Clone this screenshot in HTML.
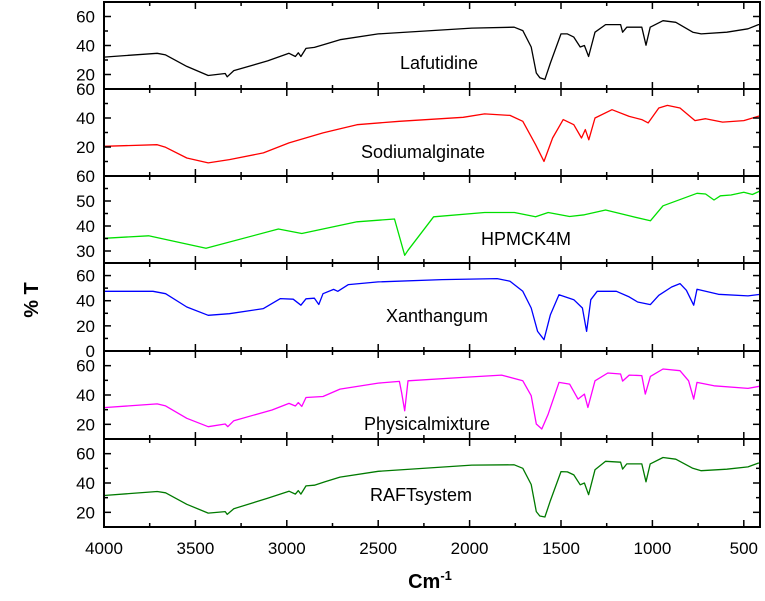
<!DOCTYPE html>
<html><head><meta charset="utf-8"><style>
html,body{margin:0;padding:0;background:#fff;}
svg{display:block;font-family:"Liberation Sans",sans-serif;}
</style></head><body>
<svg id="chart" width="765" height="601" viewBox="0 0 765 601"></svg>
<script>
const waveLaf=[4000,3709,3663,3547,3430,3337,3326,3290,3105,2988,2953,2937,2923,2895,2849,2791,2709,2500,1988,1756,1709,1663,1635,1616,1588,1558,1500,1465,1430,1395,1372,1349,1314,1256,1174,1163,1140,1058,1035,1012,942,872,779,733,593,477,407,396];
const valLaf=[32,34.6,33.5,25.6,19.3,20.7,18.4,22.7,29.4,34.6,32.4,35,32.4,38,38.7,40.9,44,48,52,52.6,50.3,39,21,17.8,16.6,27.9,48,48,45.8,39,40,32.4,49.2,54.4,54.4,49.2,52.6,52.6,40.2,52.6,57.1,56,49.2,48,49.2,51.5,54.8,56];
const waveSod=[4000,3709,3663,3547,3430,3314,3128,2988,2802,2616,2384,2035,1918,1779,1709,1639,1593,1546,1488,1430,1388,1367,1348,1314,1221,1127,1058,1023,965,918,849,767,709,616,500,407,396];
const valSod=[20.5,21.6,19.8,12.4,9,11.3,15.9,22.8,29.7,35.4,37.7,40.5,42.8,41.8,37.7,21.6,10.1,26.2,38.9,35.4,26.2,32,25,40,45.7,41.1,38.9,36.6,46.9,48.7,46.9,38.2,39.5,37.2,38.2,41.5,44];
const waveHpm=[4000,3756,3442,3046,2918,2616,2411,2355,2337,2197,1918,1755,1639,1570,1453,1372,1256,1127,1011,942,756,709,663,628,570,500,453,407,396];
const valHpm=[35.1,36.1,31.1,38.8,37,41.7,42.8,28.3,30.3,43.7,45.4,45.4,43.7,45.4,43.8,44.5,46.4,44.1,42.1,48.1,53.1,52.8,50.4,52.1,52.4,53.5,52.6,54,54.9];
const waveXan=[4000,3732,3663,3547,3430,3314,3128,3035,2965,2923,2895,2849,2825,2802,2744,2721,2663,2500,2151,1849,1779,1709,1663,1628,1593,1558,1511,1430,1383,1360,1337,1302,1197,1127,1081,1011,965,895,849,814,774,756,639,477,407,396];
const valXan=[47.5,47.5,45.6,35,28.4,29.7,33.7,41.7,41.2,36.4,41.5,42,37,45.6,49,47.5,52.8,55,56.8,57.6,55.5,47.5,34.2,15.6,9,28.9,44.8,40.8,34.2,15.6,40.8,47.5,47.5,43,39,36.9,44.3,50.9,53.6,48.3,36.4,49.1,45.1,43.8,45,47.5];
const wavePhy=[4000,3709,3663,3547,3430,3337,3323,3290,3081,2988,2953,2937,2918,2895,2802,2709,2500,2384,2372,2355,2337,2035,1825,1709,1663,1635,1605,1570,1511,1453,1407,1372,1353,1314,1244,1174,1163,1127,1058,1039,1011,942,849,802,774,756,663,477,407,396];
const valPhy=[31.4,33.9,32.6,24.1,18.4,20.2,18.4,22.5,29.8,34.3,32.5,34.8,32.2,38.3,39,44,48.1,49.3,41.7,29.2,49.7,52,53.6,49.7,39.5,20.2,16.8,27,48.6,47.4,37.2,40.6,31.5,49.7,55,54.3,49.5,53.6,53.2,40.6,52.7,57.7,56.6,49.7,37.2,48.6,46.3,44.5,46,48.1];
const waveRaf=[4000,3709,3663,3547,3430,3337,3326,3290,3105,2988,2953,2937,2923,2895,2849,2791,2709,2500,1988,1756,1709,1663,1635,1616,1588,1558,1500,1465,1430,1395,1372,1349,1314,1256,1174,1163,1140,1058,1035,1012,942,872,779,733,593,477,407,396];
const valRaf=[31.5,34.2,33.3,25.5,19.5,20.5,18.6,22.5,29.6,34.4,32.4,34.8,32.4,38,38.5,40.8,44,48,52.2,52.4,50,39,20.5,17.5,16.8,28,47.8,47.6,45.5,38.8,40,32,49,54.8,54.2,49.5,53,53,40.8,53,57.4,56.2,50,48.4,49.4,51,54,57];
const xTicks=[4000,3500,3000,2500,2000,1500,1000,500];
const panels=[
 {name:'lafutidine',label:'Lafutidine',color:'#000000',w:waveLaf,v:valLaf,y0:2,y1:89,min:10,max:70,ticks:[60,40,20],minor:10,lx:439,ly:69},
 {name:'sodium-alginate',label:'Sodiumalginate',color:'#ff0000',w:waveSod,v:valSod,y0:89,y1:176,min:0,max:60,ticks:[60,40,20],minor:10,lx:423,ly:158},
 {name:'hpmck4m',label:'HPMCK4M',color:'#00e000',w:waveHpm,v:valHpm,y0:176,y1:263,min:25.2,max:60,ticks:[60,50,40,30],minor:5,lx:526,ly:245},
 {name:'xanthan-gum',label:'Xanthangum',color:'#0000ff',w:waveXan,v:valXan,y0:263,y1:351,min:0,max:70,ticks:[60,40,20,0],minor:10,lx:437,ly:322},
 {name:'physical-mixture',label:'Physicalmixture',color:'#ff00ff',w:wavePhy,v:valPhy,y0:351,y1:439,min:10,max:70,ticks:[60,40,20],minor:10,lx:427,ly:430},
 {name:'raft-system',label:'RAFTsystem',color:'#007a00',w:waveRaf,v:valRaf,y0:439,y1:527,min:10,max:70,ticks:[60,40,20],minor:10,lx:421,ly:501}
];
const X0=104,X1=760,W0=4000,PX=91.4/500;
function xs(w){return X0+(W0-w)*PX;}
const svg=document.getElementById('chart');
const NS='http://www.w3.org/2000/svg';
function mk(t,a,parent){const e=document.createElementNS(NS,t);for(const k in a)e.setAttribute(k,a[k]);(parent||svg).appendChild(e);return e;}
panels.forEach(p=>{
 const ys=v=>p.y1-(v-p.min)/(p.max-p.min)*(p.y1-p.y0);
 const g=mk('g',{});
 
 
 // line
 let d='';
 p.w.forEach((w,i)=>{const x=Math.min(X1,xs(w));d+=(i?'L':'M')+x.toFixed(1)+','+ys(p.v[i]).toFixed(1);});
 const path=mk('path',{d:d,fill:'none',stroke:p.color,'stroke-width':1.3,'stroke-linejoin':'round'},g);
 
 
 // y ticks
 for(let v=Math.ceil(p.min/p.minor)*p.minor;v<=p.max;v+=p.minor){
  const y=ys(v);if(y<p.y0-0.5||y>p.y1+0.5)continue;
  const major=p.ticks.indexOf(v)>=0;const L=major?7:4;
  mk('line',{x1:X0,x2:X0+L,y1:y,y2:y,stroke:'#000','stroke-width':1.5},g);
  mk('line',{x1:X1,x2:X1-L,y1:y,y2:y,stroke:'#000','stroke-width':1.5},g);
 }
 p.ticks.forEach(v=>{
  const t=mk('text',{x:95,y:ys(v)+6,'text-anchor':'end','font-size':17,fill:'#000'},g);
  t.textContent=v;
  
  
 });
 // x ticks
 for(let w=4000;w>=400;w-=250){
  const x=xs(w);const L=(w%500===0)?7:4;
  mk('line',{x1:x,x2:x,y1:p.y0,y2:p.y0+L,stroke:'#000','stroke-width':1.5},g);
  mk('line',{x1:x,x2:x,y1:p.y1,y2:p.y1-L,stroke:'#000','stroke-width':1.5},g);
 }
 const fr=mk('rect',{x:X0,y:p.y0,width:X1-X0,height:p.y1-p.y0,fill:'none',stroke:'#000','stroke-width':2},g);
 
 
 const lb=mk('text',{x:p.lx,y:p.ly,'text-anchor':'middle','font-size':18,fill:'#000'},g);
 lb.textContent=p.label;
 
 
});
xTicks.forEach(w=>{
 const t=mk('text',{x:xs(w),y:554,'text-anchor':'middle','font-size':17,fill:'#000'});
 t.textContent=w;
 
 
});
const yt=mk('text',{x:0,y:0,transform:'translate(38,300) rotate(-90)','text-anchor':'middle','font-size':20,'font-weight':'bold',fill:'#000'});
yt.textContent='% T';


const xt=mk('text',{x:430,y:588,'text-anchor':'middle','font-size':20,'font-weight':'bold',fill:'#000'});
xt.innerHTML='Cm<tspan font-size="13" dy="-8">-1</tspan>';


</script>
</body></html>
